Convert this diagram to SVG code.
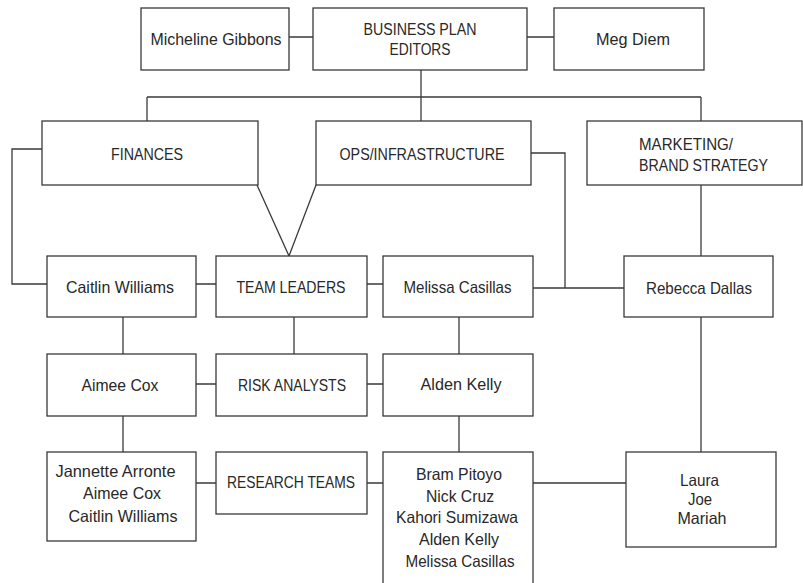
<svg xmlns="http://www.w3.org/2000/svg" width="803" height="583" viewBox="0 0 803 583">
<style>
rect.box{fill:#fff;stroke:#3a3a3a;stroke-width:1.3}
#connectors path{fill:none;stroke:#3a3a3a;stroke-width:1.3}
text{font-family:"Liberation Sans",Arial,sans-serif;fill:#282828;text-anchor:middle;font-size:16.5px}
.l{text-anchor:start}
</style>
<rect width="803" height="583" fill="#fff"/>
<g id="connectors">
<path d="M289 37H313M527 37H554"/>
<path d="M421 70V121M147 97H701M147 97V121M701 97V121"/>
<path d="M42 149H12V284H47"/>
<path d="M257 185L289 256L316 185"/>
<path d="M531 153H565V288"/>
<path d="M533 288H624"/>
<path d="M701 185V256"/>
<path d="M196 284H216M367 284H383"/>
<path d="M123 317V354M294 317V354M459 317V354"/>
<path d="M196 384H216M367 384H383"/>
<path d="M123 416V452M459 416V452"/>
<path d="M196 483H216M367 483H383M533 483H626"/>
<path d="M701 317V452"/>
</g>
<g id="micheline"><rect class="box" x="141" y="8" width="148" height="62"/><text x="216" y="45" textLength="131" lengthAdjust="spacingAndGlyphs">Micheline Gibbons</text></g>
<g id="editors"><rect class="box" x="313" y="8" width="214" height="62"/><text x="420" y="35" textLength="113" lengthAdjust="spacingAndGlyphs">BUSINESS PLAN</text><text x="420" y="55" textLength="61" lengthAdjust="spacingAndGlyphs">EDITORS</text></g>
<g id="meg"><rect class="box" x="554" y="8" width="150" height="62"/><text x="633" y="45" textLength="74" lengthAdjust="spacingAndGlyphs">Meg Diem</text></g>
<g id="finances"><rect class="box" x="42" y="121" width="216" height="64"/><text x="147" y="160" textLength="72" lengthAdjust="spacingAndGlyphs">FINANCES</text></g>
<g id="ops"><rect class="box" x="316" y="121" width="215" height="64"/><text x="422" y="160" textLength="165" lengthAdjust="spacingAndGlyphs">OPS/INFRASTRUCTURE</text></g>
<g id="marketing"><rect class="box" x="587" y="121" width="215" height="64"/><text class="l" x="639" y="150" textLength="94" lengthAdjust="spacingAndGlyphs">MARKETING/</text><text class="l" x="639" y="171" textLength="129" lengthAdjust="spacingAndGlyphs">BRAND STRATEGY</text></g>
<g id="caitlin"><rect class="box" x="47" y="256" width="149" height="61"/><text x="120" y="293" textLength="108" lengthAdjust="spacingAndGlyphs">Caitlin Williams</text></g>
<g id="teamleaders"><rect class="box" x="216" y="256" width="151" height="61"/><text x="291" y="293" textLength="109" lengthAdjust="spacingAndGlyphs">TEAM LEADERS</text></g>
<g id="melissa"><rect class="box" x="383" y="256" width="150" height="61"/><text x="457.5" y="293" textLength="108" lengthAdjust="spacingAndGlyphs">Melissa Casillas</text></g>
<g id="rebecca"><rect class="box" x="624" y="256" width="149" height="61"/><text x="699" y="294" textLength="106" lengthAdjust="spacingAndGlyphs">Rebecca Dallas</text></g>
<g id="aimee"><rect class="box" x="47" y="354" width="149" height="62"/><text x="120" y="391" textLength="77" lengthAdjust="spacingAndGlyphs">Aimee Cox</text></g>
<g id="risk"><rect class="box" x="216" y="354" width="151" height="62"/><text x="292" y="391" textLength="108" lengthAdjust="spacingAndGlyphs">RISK ANALYSTS</text></g>
<g id="alden"><rect class="box" x="383" y="354" width="150" height="62"/><text x="461" y="390" textLength="81" lengthAdjust="spacingAndGlyphs">Alden Kelly</text></g>
<g id="research-a"><rect class="box" x="47" y="452" width="149" height="89"/><text x="115.5" y="477" textLength="120" lengthAdjust="spacingAndGlyphs">Jannette Arronte</text><text x="122" y="499" textLength="78" lengthAdjust="spacingAndGlyphs">Aimee Cox</text><text x="123" y="522" textLength="109" lengthAdjust="spacingAndGlyphs">Caitlin Williams</text></g>
<g id="researchteams"><rect class="box" x="216" y="452" width="151" height="62"/><text x="291" y="488" textLength="128" lengthAdjust="spacingAndGlyphs">RESEARCH TEAMS</text></g>
<g id="research-b"><rect class="box" x="383" y="452" width="150" height="132"/><text x="459" y="480" textLength="86" lengthAdjust="spacingAndGlyphs">Bram Pitoyo</text><text x="460" y="502" textLength="68" lengthAdjust="spacingAndGlyphs">Nick Cruz</text><text x="457" y="523" textLength="122" lengthAdjust="spacingAndGlyphs">Kahori Sumizawa</text><text x="459" y="545" textLength="80" lengthAdjust="spacingAndGlyphs">Alden Kelly</text><text x="460" y="567" textLength="109" lengthAdjust="spacingAndGlyphs">Melissa Casillas</text></g>
<g id="research-c"><rect class="box" x="626" y="452" width="150" height="95"/><text x="699.5" y="486" textLength="39" lengthAdjust="spacingAndGlyphs">Laura</text><text x="700" y="505" textLength="24" lengthAdjust="spacingAndGlyphs">Joe</text><text x="702" y="524" textLength="49" lengthAdjust="spacingAndGlyphs">Mariah</text></g>
</svg>
